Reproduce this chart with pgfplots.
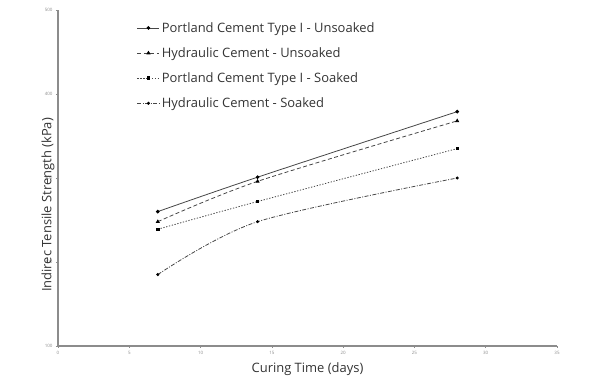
\documentclass[border=0pt]{standalone}
\usepackage{pgfplots}
\pgfplotsset{compat=1.18}
\usepackage{fontspec}
\setmainfont{Open Sans}
\definecolor{axgray}{RGB}{140,140,140}
\definecolor{lngray}{RGB}{70,70,70}
\begin{document}
\begin{tikzpicture}
\useasboundingbox (-58bp,-41bp) rectangle (539bp,336bp+10bp);
\begin{axis}[
  scale only axis, width=499bp, height=336bp,
  xmin=0, xmax=35, ymin=100, ymax=500,
  xtick={0,5,...,35}, ytick={100,200,...,500},
  axis lines=left, axis line style={axgray, line width=1.3pt, -},
  tick style={axgray, line width=0.6pt}, major tick length=2bp,
  tick align=outside,
  ticklabel style={font=\fontsize{4.5}{5}\selectfont, text=black!45},
  /pgf/number format/assume math mode=true,
  xlabel={Curing Time (days)}, ylabel={Indirec Tensile Strength (kPa)},
  xlabel style={font=\fontsize{13}{15}\selectfont, text=black!80, at={(axis description cs:0.5,0)}, anchor=north, yshift=-13bp},
  ylabel style={font=\fontsize{13}{15}\selectfont, text=black!80, at={(axis description cs:0,0.5)}, anchor=south, xshift=-27bp},
  legend style={draw=none, fill=none, at={(axis description cs:0.158,0.97)}, anchor=north west,
    font=\fontsize{13}{15}\selectfont, text=black!80, row sep=9.8bp, inner sep=0pt,
    /tikz/every even column/.style={column sep=1bp}},
  legend cell align=left,
  legend image code/.code={\draw[#1] (0bp,0bp) -- (22bp,0bp); \draw[#1,solid] plot coordinates {(11bp,0bp)};},
  every axis plot/.append style={line width=0.8pt, lngray, mark options={black, solid, fill=black}},
]
\addplot[solid, mark=*, mark size=1.4pt, smooth] coordinates {(7,260) (14,301) (28,379)};
\addlegendentry{Portland Cement Type I - Unsoaked}
\addplot[dash pattern=on 4pt off 2.5pt, mark=triangle*, mark size=1.6pt, smooth] coordinates {(7,248) (14,296) (28,368)};
\addlegendentry{Hydraulic Cement - Unsoaked}
\addplot[dash pattern=on 1.3pt off 1.6pt, mark=square*, mark size=1.3pt, smooth] coordinates {(7,239) (14,272) (28,335)};
\addlegendentry{Portland Cement Type I - Soaked}
\addplot[dash pattern=on 4pt off 1.5pt on 1pt off 1.5pt, mark=*, mark size=1.1pt, smooth] coordinates {(7,185) (14,248) (28,300)};
\addlegendentry{Hydraulic Cement - Soaked}
\end{axis}
\end{tikzpicture}
\end{document}
